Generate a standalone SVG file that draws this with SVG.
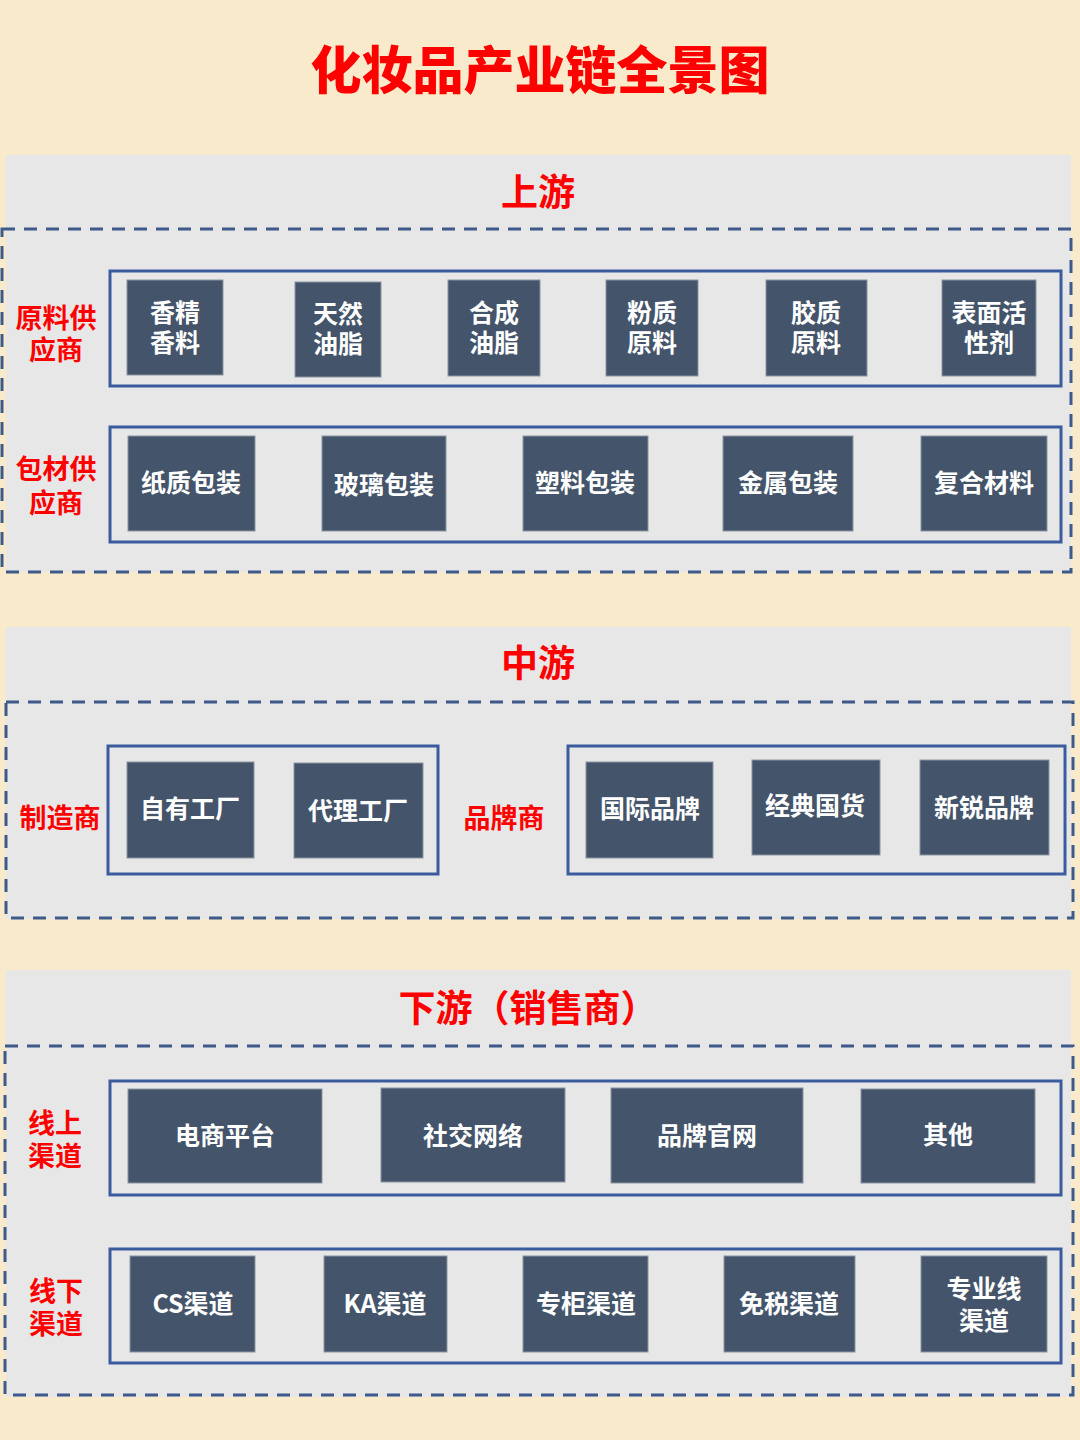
<svg xmlns="http://www.w3.org/2000/svg" width="1080" height="1440" viewBox="0 0 1080 1440">
<style>
  .bg{fill:#F8EACA}
  .panel{fill:#E7E7E7}
  .dash{fill:none;stroke:#3D5A8A;stroke-width:3;stroke-dasharray:13 9}
  .grp{fill:none;stroke:#3A5C9E;stroke-width:3}
  .box{fill:#44546A;stroke:#8C96A3;stroke-width:1}
  .bt{fill:#FFFFFF;font-family:"Microsoft YaHei","Noto Sans CJK SC",sans-serif;font-size:25px;font-weight:bold;text-anchor:middle;dominant-baseline:central}
  .lab{fill:#FF0000;font-family:"Noto Sans CJK SC",sans-serif;font-size:27px;font-weight:bold;text-anchor:middle;dominant-baseline:central}
  .hd{fill:#FF0000;font-family:"Noto Sans CJK SC",sans-serif;font-size:37px;font-weight:bold;text-anchor:middle;dominant-baseline:central}
  .title{fill:#FF0000;font-family:"Noto Sans CJK SC",sans-serif;font-size:51px;font-weight:900;text-anchor:middle;dominant-baseline:central}
</style>
<rect class="bg" x="0" y="0" width="1080" height="1440"/>
<text class="title" x="540" y="67">化妆品产业链全景图</text>

<g id="upstream">
  <rect class="panel" x="6" y="155" width="1065" height="417"/>
  <text class="hd" x="538" y="190">上游</text>
  <rect class="dash" x="2" y="229" width="1069" height="343"/>
  <text class="lab" x="56" y="316"><tspan x="56">原料供</tspan><tspan x="56" dy="32">应商</tspan></text>
  <rect class="grp" x="110" y="271" width="951" height="115"/>
  <g id="n-xiangjing"><rect class="box" x="127" y="280" width="96" height="95"/><text class="bt" x="175" y="311"><tspan x="175">香精</tspan><tspan x="175" dy="30">香料</tspan></text></g>
  <g id="n-tianran"><rect class="box" x="295" y="282" width="86" height="95"/><text class="bt" x="338" y="312"><tspan x="338">天然</tspan><tspan x="338" dy="30">油脂</tspan></text></g>
  <g id="n-hecheng"><rect class="box" x="448" y="280" width="92" height="96"/><text class="bt" x="494" y="311"><tspan x="494">合成</tspan><tspan x="494" dy="30">油脂</tspan></text></g>
  <g id="n-fenzhi"><rect class="box" x="606" y="280" width="92" height="96"/><text class="bt" x="652" y="311"><tspan x="652">粉质</tspan><tspan x="652" dy="30">原料</tspan></text></g>
  <g id="n-jiaozhi"><rect class="box" x="766" y="280" width="101" height="96"/><text class="bt" x="816" y="311"><tspan x="816">胶质</tspan><tspan x="816" dy="30">原料</tspan></text></g>
  <g id="n-biaomian"><rect class="box" x="942" y="280" width="94" height="96"/><text class="bt" x="989" y="311"><tspan x="989">表面活</tspan><tspan x="989" dy="30">性剂</tspan></text></g>

  <text class="lab" x="56" y="467"><tspan x="56">包材供</tspan><tspan x="56" dy="34">应商</tspan></text>
  <rect class="grp" x="110" y="427" width="951" height="115"/>
  <g id="n-zhizhi"><rect class="box" x="128" y="436" width="127" height="95"/><text class="bt" x="191" y="481">纸质包装</text></g>
  <g id="n-boli"><rect class="box" x="322" y="436" width="124" height="95"/><text class="bt" x="384" y="483">玻璃包装</text></g>
  <g id="n-suliao"><rect class="box" x="523" y="436" width="125" height="95"/><text class="bt" x="585" y="481">塑料包装</text></g>
  <g id="n-jinshu"><rect class="box" x="723" y="436" width="130" height="95"/><text class="bt" x="788" y="481">金属包装</text></g>
  <g id="n-fuhe"><rect class="box" x="921" y="436" width="126" height="95"/><text class="bt" x="984" y="481">复合材料</text></g>
</g>

<g id="midstream">
  <rect class="panel" x="6" y="627" width="1065" height="292"/>
  <text class="hd" x="538" y="661">中游</text>
  <rect class="dash" x="6" y="702" width="1067" height="216"/>
  <text class="lab" x="60" y="816">制造商</text>
  <rect class="grp" x="108" y="746" width="330" height="128"/>
  <g id="n-ziyou"><rect class="box" x="127" y="762" width="127" height="96"/><text class="bt" x="190" y="807">自有工厂</text></g>
  <g id="n-daili"><rect class="box" x="294" y="763" width="129" height="95"/><text class="bt" x="358" y="809">代理工厂</text></g>
  <text class="lab" x="504" y="816">品牌商</text>
  <rect class="grp" x="568" y="746" width="497" height="128"/>
  <g id="n-guoji"><rect class="box" x="586" y="762" width="127" height="96"/><text class="bt" x="650" y="807">国际品牌</text></g>
  <g id="n-jingdian"><rect class="box" x="752" y="760" width="128" height="95"/><text class="bt" x="815" y="804">经典国货</text></g>
  <g id="n-xinrui"><rect class="box" x="920" y="760" width="129" height="95"/><text class="bt" x="984" y="806">新锐品牌</text></g>
</g>

<g id="downstream">
  <rect class="panel" x="6" y="970" width="1065" height="427"/>
  <text class="hd" x="528" y="1006">下游（销售商）</text>
  <rect class="dash" x="5" y="1046" width="1068" height="349"/>
  <text class="lab" x="55" y="1121"><tspan x="55">线上</tspan><tspan x="55" dy="33">渠道</tspan></text>
  <rect class="grp" x="110" y="1081" width="951" height="114"/>
  <g id="n-dianshang"><rect class="box" x="128" y="1089" width="194" height="94"/><text class="bt" x="225" y="1134">电商平台</text></g>
  <g id="n-shejiao"><rect class="box" x="381" y="1088" width="184" height="94"/><text class="bt" x="473" y="1134">社交网络</text></g>
  <g id="n-guanwang"><rect class="box" x="611" y="1088" width="192" height="95"/><text class="bt" x="707" y="1134">品牌官网</text></g>
  <g id="n-qita"><rect class="box" x="861" y="1089" width="174" height="94"/><text class="bt" x="948" y="1133">其他</text></g>

  <text class="lab" x="56" y="1289"><tspan x="56">线下</tspan><tspan x="56" dy="33">渠道</tspan></text>
  <rect class="grp" x="110" y="1249" width="951" height="114"/>
  <g id="n-cs"><rect class="box" x="130" y="1256" width="125" height="96"/><text class="bt" x="193" y="1302">CS渠道</text></g>
  <g id="n-ka"><rect class="box" x="324" y="1256" width="123" height="96"/><text class="bt" x="385" y="1302">KA渠道</text></g>
  <g id="n-zhuangui"><rect class="box" x="523" y="1256" width="125" height="96"/><text class="bt" x="586" y="1302">专柜渠道</text></g>
  <g id="n-mianshui"><rect class="box" x="724" y="1256" width="131" height="96"/><text class="bt" x="789" y="1302">免税渠道</text></g>
  <g id="n-zhuanye"><rect class="box" x="921" y="1256" width="126" height="96"/><text class="bt" x="984" y="1287"><tspan x="984">专业线</tspan><tspan x="984" dy="32">渠道</tspan></text></g>
</g>

<g id="connectors"></g>
</svg>
